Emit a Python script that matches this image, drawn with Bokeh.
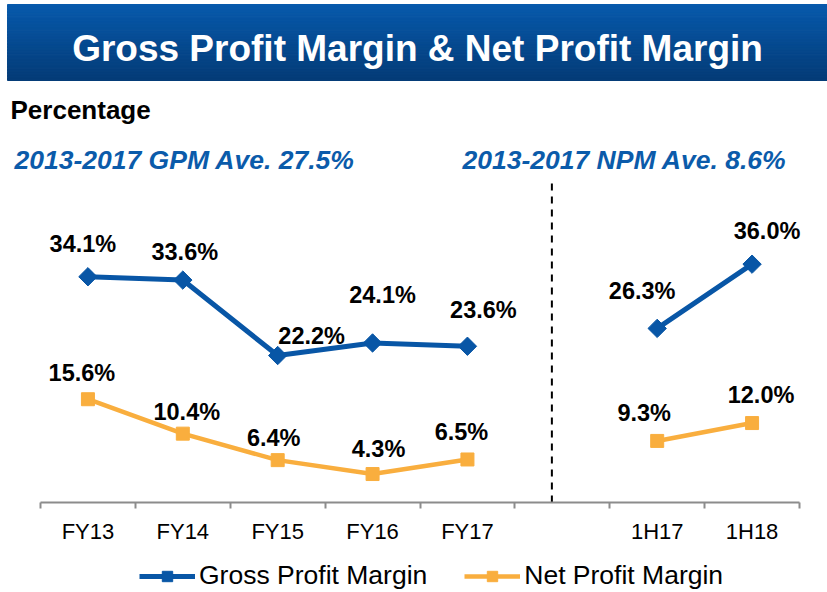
import math
from bokeh.plotting import figure
from bokeh.models import (Range1d, ColumnDataSource, LabelSet, Label, FixedTicker,
                          Legend, LegendItem)
from bokeh.layouts import column
from bokeh.core.properties import value
from bokeh.embed import file_html
from bokeh.resources import INLINE

# ---------------- data ----------------
title_text = "Gross Profit Margin & Net Profit Margin"
unit_text = "Percentage"
gpm_avg_text = "2013-2017 GPM Ave. 27.5%"
npm_avg_text = "2013-2017 NPM Ave. 8.6%"

categories = ["FY13", "FY14", "FY15", "FY16", "FY17", "", "1H17", "1H18"]
gpm = [34.1, 33.6, 22.2, 24.1, 23.6, None, 26.3, 36.0]
npm = [15.6, 10.4, 6.4, 4.3, 6.5, None, 9.3, 12.0]
series_names = ["Gross Profit Margin", "Net Profit Margin"]

# label placement offsets in pixels (styling, not data)
gpm_dx = [-5, 2, 34, 10, 16, 0, -15, 15]
gpm_dy = [25, 20, 12, 40, 28, 0, 29, 25]
npm_dx = [-6, 4, -4, 6, -6, 0, -13, 9]
npm_dy = [18, 14, 14, 17, 19, 0, 20, 20]

# ---------------- style / layout ----------------
FONT = "Liberation Sans"
BLUE = "#0856A6"
ORANGE = "#F9AE3E"
AVE_BLUE = "#0B5BAA"
GRAY = "#8C8C8C"
W = 827
TOP_H = 180
MAIN_H = 412
AX_L, AX_R = 40, 799          # pixel extent of the category axis
AX_Y = 322                    # pixel row (from top of main figure) of the zero line
PX_PER_PCT = 6.62

# ---------------- header figure ----------------
top = figure(width=W, height=TOP_H, x_range=Range1d(0, W), y_range=Range1d(0, TOP_H),
             output_backend="svg", toolbar_location=None, min_border=0,
             min_border_left=0, min_border_right=0, min_border_top=0, min_border_bottom=0,
             x_axis_location=None, y_axis_location=None, outline_line_color=None)
top.grid.visible = False

c0 = (7, 89, 171)
c1 = (4, 60, 120)
n = 26
bar_top, bar_bot = TOP_H - 4, TOP_H - 80
h = (bar_top - bar_bot) / n
tops, bots, cols = [], [], []
for i in range(n):
    t = i / (n - 1)
    col = "#%02x%02x%02x" % tuple(int(round(a + (b - a) * t)) for a, b in zip(c0, c1))
    tops.append(bar_top - i * h)
    bots.append(bar_top - (i + 1) * h)
    cols.append(col)
top.quad(left=7, right=W, top=tops, bottom=bots, fill_color=cols, line_color=cols, line_width=1)


def header_label(x, y_from_top, text, color, size, style, align="left"):
    top.add_layout(Label(x=x, y=TOP_H - y_from_top, text=text, text_color=color,
                         text_font=FONT, text_font_size=size, text_font_style=style,
                         text_align=align, text_baseline="alphabetic"))


header_label(417, 48, title_text, "white", "37px", "bold", "center")
header_label(10, 109, unit_text, "black", "26px", "bold")
header_label(14, 159, gpm_avg_text, AVE_BLUE, "26.5px", "bold italic")
header_label(462, 159, npm_avg_text, AVE_BLUE, "26.5px", "bold italic")

# ---------------- main chart ----------------
ncat = len(categories)
slot = (AX_R - AX_L) / ncat
x_start = -AX_L / slot
x_end = ncat + (W - AX_R) / slot
y_end = AX_Y / PX_PER_PCT
y_start = -(MAIN_H - AX_Y) / PX_PER_PCT

xs = [i + 0.5 for i in range(ncat)]
nan = float("nan")
gpm_v = [nan if v is None else v for v in gpm]
npm_v = [nan if v is None else v for v in npm]

main = figure(width=W, height=MAIN_H, x_range=Range1d(x_start, x_end),
              y_range=Range1d(y_start, y_end),
              output_backend="svg", toolbar_location=None, y_axis_location=None,
              min_border=0, min_border_left=0, min_border_right=0,
              min_border_top=0, min_border_bottom=0, outline_line_color=None)
main.grid.visible = False

src = ColumnDataSource(dict(x=xs, gpm=gpm_v, npm=npm_v))

# dashed divider between full-year and half-year groups
sep = categories.index("") + 0.39
main.segment(x0=[sep], y0=[0], x1=[sep], y1=[y_end], line_color="black",
             line_width=2, line_dash="7 6")

g_line = main.line("x", "gpm", source=src, line_color=BLUE, line_width=5)
g_mark = main.scatter("x", "gpm", source=src, marker="square", angle=math.pi / 4, size=13,
                      fill_color=BLUE, line_color=BLUE)
n_line = main.line("x", "npm", source=src, line_color=ORANGE, line_width=4.5)
n_mark = main.scatter("x", "npm", source=src, marker="square", size=13,
                      fill_color=ORANGE, line_color=ORANGE)


def label_source(vals, dx, dy):
    d = dict(x=[], y=[], text=[], dx=[], dy=[])
    for x, v, a, b in zip(xs, vals, dx, dy):
        if v is None:
            continue
        d["x"].append(x); d["y"].append(v); d["text"].append(f"{v:.1f}%")
        d["dx"].append(a); d["dy"].append(b)
    return ColumnDataSource(d)


for vals, dx, dy in ((gpm, gpm_dx, gpm_dy), (npm, npm_dx, npm_dy)):
    main.add_layout(LabelSet(x="x", y="y", text="text", x_offset="dx", y_offset="dy",
                             source=label_source(vals, dx, dy), text_align="center",
                             text_baseline="alphabetic", text_font=value(FONT),
                             text_font_size="23.5px", text_font_style="bold",
                             text_color="black"))

ax = main.xaxis[0]
ax.fixed_location = 0
ax.bounds = (0, ncat)
ax.ticker = FixedTicker(ticks=xs, minor_ticks=list(range(ncat + 1)))
ax.major_label_overrides = {x: c for x, c in zip(xs, categories)}
ax.major_tick_out = 0
ax.major_tick_in = 0
ax.minor_tick_out = 6
ax.minor_tick_in = 0
ax.minor_tick_line_color = GRAY
ax.minor_tick_line_width = 2
ax.axis_line_color = GRAY
ax.axis_line_width = 2
ax.major_label_text_font = FONT
ax.major_label_text_font_size = "22px"
ax.major_label_text_color = "black"
ax.major_label_standoff = 10

legend = Legend(items=[LegendItem(label=series_names[0], renderers=[g_line, g_mark]),
                       LegendItem(label=series_names[1], renderers=[n_line, n_mark])],
                location=(139, 1), orientation="horizontal", glyph_width=56, glyph_height=26,
                label_height=26, label_standoff=4, spacing=37, padding=0, margin=0,
                background_fill_alpha=0, border_line_color=None,
                label_text_font=FONT, label_text_font_size="26.5px", label_text_color="black")
main.add_layout(legend)

layout = column(top, main, spacing=0)
open("out.html", "w").write(file_html(layout, INLINE))
